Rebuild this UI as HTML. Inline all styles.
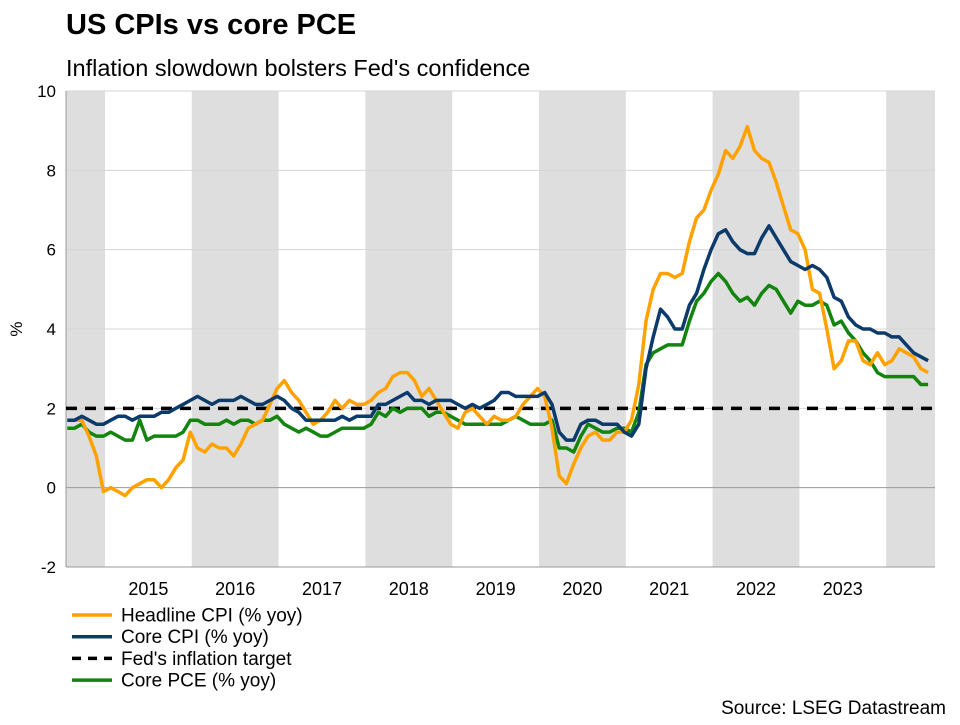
<!DOCTYPE html>
<html><head><meta charset="utf-8"><style>
body{margin:0;background:#fff;font-family:"Liberation Sans",sans-serif}
svg text{font-family:"Liberation Sans",sans-serif}
</style></head><body>
<svg id="c" width="960" height="720">
<text x="66" y="34" font-size="29" font-weight="bold" fill="#000">US CPIs vs core PCE</text>
<text x="66" y="76" font-size="23.5" fill="#000">Inflation slowdown bolsters Fed's confidence</text>
<g id="plot"></g>
<text x="946" y="714" font-size="19" text-anchor="end" fill="#000">Source: LSEG Datastream</text>
</svg>
<script>
const years=[2015,2016,2017,2018,2019,2020,2021,2022,2023];
const yTicks=[-2,0,2,4,6,8,10];
const target=[2];
const headline=[1.7,1.7,1.7,1.3,0.8,
-0.1,0.0,-0.1,-0.2,0.0,0.1,0.2,0.2,0.0,0.2,0.5,0.7,
1.4,1.0,0.9,1.1,1.0,1.0,0.8,1.1,1.5,1.6,1.7,2.1,
2.5,2.7,2.4,2.2,1.9,1.6,1.7,1.9,2.2,2.0,2.2,2.1,
2.1,2.2,2.4,2.5,2.8,2.9,2.9,2.7,2.3,2.5,2.2,1.9,
1.6,1.5,1.9,2.0,1.8,1.6,1.8,1.7,1.7,1.8,2.1,2.3,
2.5,2.3,1.5,0.3,0.1,0.6,1.0,1.3,1.4,1.2,1.2,1.4,
1.4,1.7,2.6,4.2,5.0,5.4,5.4,5.3,5.4,6.2,6.8,7.0,
7.5,7.9,8.5,8.3,8.6,9.1,8.5,8.3,8.2,7.7,7.1,6.5,
6.4,6.0,5.0,4.9,4.0,3.0,3.2,3.7,3.7,3.2,3.1,3.4,
3.1,3.2,3.5,3.4,3.3,3.0,2.9];
const coreCpi=[1.7,1.7,1.8,1.7,1.6,
1.6,1.7,1.8,1.8,1.7,1.8,1.8,1.8,1.9,1.9,2.0,2.1,
2.2,2.3,2.2,2.1,2.2,2.2,2.2,2.3,2.2,2.1,2.1,2.2,
2.3,2.2,2.0,1.9,1.7,1.7,1.7,1.7,1.7,1.8,1.7,1.8,
1.8,1.8,2.1,2.1,2.2,2.3,2.4,2.2,2.2,2.1,2.2,2.2,
2.2,2.1,2.0,2.1,2.0,2.1,2.2,2.4,2.4,2.3,2.3,2.3,
2.3,2.4,2.1,1.4,1.2,1.2,1.6,1.7,1.7,1.6,1.6,1.6,
1.4,1.3,1.6,3.0,3.8,4.5,4.3,4.0,4.0,4.6,4.9,5.5,
6.0,6.4,6.5,6.2,6.0,5.9,5.9,6.3,6.6,6.3,6.0,5.7,
5.6,5.5,5.6,5.5,5.3,4.8,4.7,4.3,4.1,4.0,4.0,3.9,
3.9,3.8,3.8,3.6,3.4,3.3,3.2];
const corePce=[1.5,1.5,1.6,1.4,1.3,
1.3,1.4,1.3,1.2,1.2,1.7,1.2,1.3,1.3,1.3,1.3,1.4,
1.7,1.7,1.6,1.6,1.6,1.7,1.6,1.7,1.7,1.6,1.7,1.7,
1.8,1.6,1.5,1.4,1.5,1.4,1.3,1.3,1.4,1.5,1.5,1.5,
1.5,1.6,1.9,1.8,2.0,1.9,2.0,2.0,2.0,1.8,1.9,1.9,
1.8,1.7,1.6,1.6,1.6,1.6,1.6,1.6,1.7,1.8,1.7,1.6,
1.6,1.6,1.7,1.0,1.0,0.9,1.3,1.6,1.5,1.4,1.4,1.5,
1.5,1.4,1.9,3.1,3.4,3.5,3.6,3.6,3.6,4.2,4.7,4.9,
5.2,5.4,5.2,4.9,4.7,4.8,4.6,4.9,5.1,5.0,4.7,4.4,
4.7,4.6,4.6,4.7,4.6,4.1,4.2,3.9,3.7,3.4,3.2,2.9,
2.8,2.8,2.8,2.8,2.8,2.6,2.6];
const L=66,R=935,T=91,B=567,YW=86.8,X2015=105;
const NS='http://www.w3.org/2000/svg';
const g=document.getElementById('plot');
function y(v){return B-(v+2)/12*(B-T);}
function xm(i){return X2015+(i-5)*YW/12-1.5;}
function xy(yr){return X2015+(yr-2015)*YW;}
function mk(t,a,p){const e=document.createElementNS(NS,t);for(const k in a)e.setAttribute(k,a[k]);(p||g).appendChild(e);return e;}
for(let yr=2014;yr<=2024;yr+=2){
 const x0=Math.max(L,xy(yr)),x1=Math.min(R,xy(yr+1));
 const r=mk('rect',{x:x0,y:T,width:x1-x0,height:B-T,fill:'#dedede'});
 
 
}
yTicks.forEach(v=>{
 const l=mk('line',{x1:L,x2:R,y1:y(v),y2:y(v),stroke:v===0?'#9a9a9a':'#d6d6d6','stroke-width':1});
 
 
 const t=mk('text',{x:56,y:y(v)+6,'text-anchor':'end','font-size':17,fill:'#000'});
 t.textContent=v;
 
 
});
const ax=mk('line',{x1:L,x2:L,y1:T,y2:B,stroke:'#9a9a9a'});


const bx=mk('line',{x1:L,x2:R,y1:B,y2:B,stroke:'#9a9a9a'});


years.forEach(yr=>{
 const t=mk('text',{x:xy(yr)+YW/2,y:595,'text-anchor':'middle','font-size':18,fill:'#000'});
 t.textContent=yr;
 
 
});
const yl=mk('text',{x:0,y:0,transform:'translate(22,329) rotate(-90)','text-anchor':'middle','font-size':17});
yl.textContent='%';


const tl=mk('line',{x1:L,x2:R,y1:y(target[0]),y2:y(target[0]),stroke:'#000','stroke-width':3.5,'stroke-dasharray':'11,8'});


function series(d,c,n){
 const p=mk('polyline',{points:d.map((v,i)=>xm(i).toFixed(1)+','+y(v).toFixed(1)).join(' '),fill:'none',stroke:c,'stroke-width':3.5,'stroke-linejoin':'round'});
 
 
}
series(corePce,'#13850f','core-pce-line');
series(headline,'#ffa200','headline-cpi-line');
series(coreCpi,'#0b3a6b','core-cpi-line');
const leg=[['Headline CPI (% yoy)','#ffa200',''],['Core CPI (% yoy)','#0b3a6b',''],["Fed's inflation target",'#000','9,7'],['Core PCE (% yoy)','#13850f','']];
leg.forEach((e,i)=>{
 const yy=615+i*21.7;
 const l=mk('line',{x1:72,x2:112,y1:yy,y2:yy,stroke:e[1],'stroke-width':3.5});
 if(e[2])l.setAttribute('stroke-dasharray',e[2]);
 
 
 const t=mk('text',{x:121,y:yy+6.5,'font-size':19,fill:'#000'});
 t.textContent=e[0];
 
 
});
</script>
</body></html>
